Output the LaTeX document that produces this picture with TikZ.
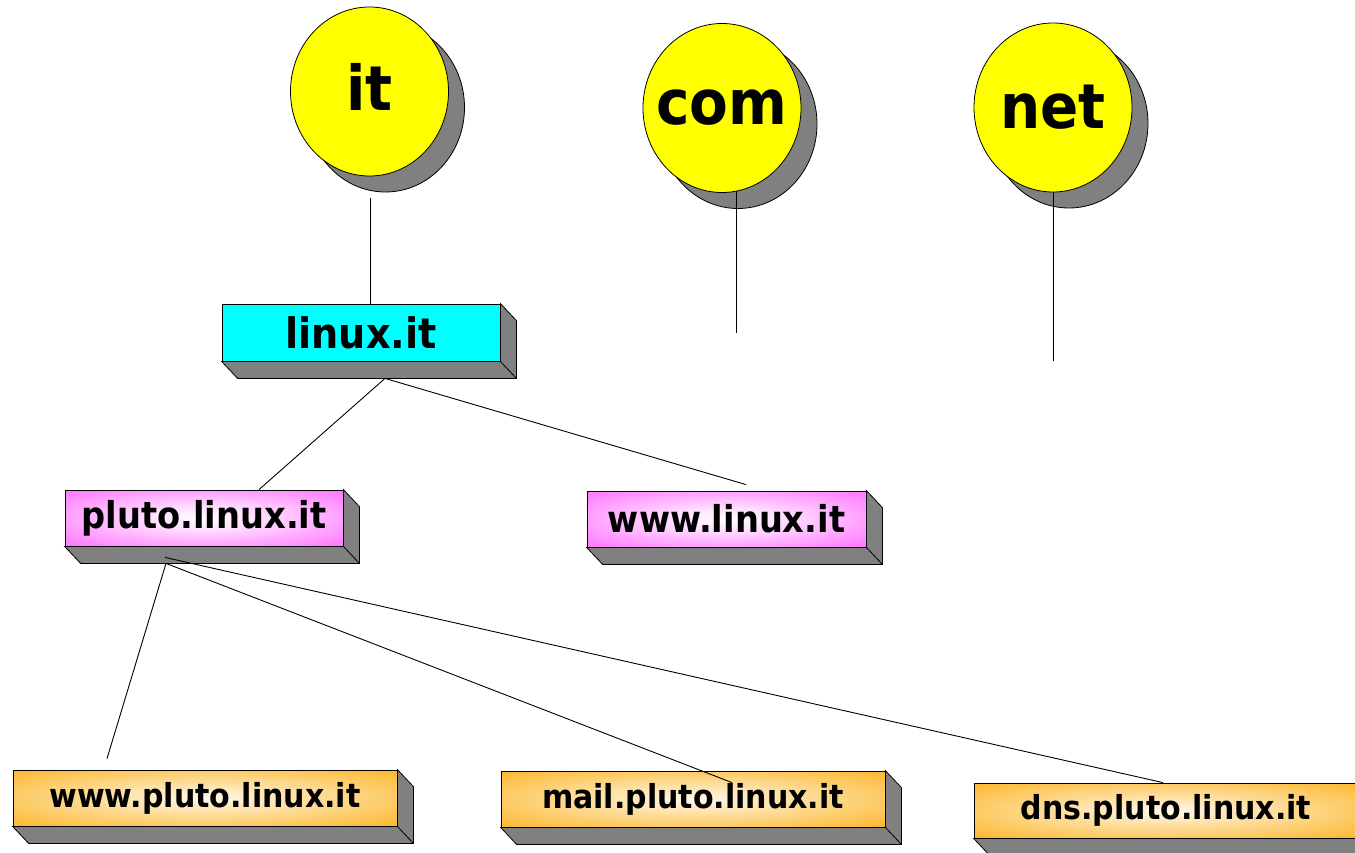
\documentclass[tikz,border=0pt]{standalone}
\usepackage{fontspec}
\setmainfont{DejaVu Sans}[FakeStretch=0.91]
\usetikzlibrary{calc,shapes.geometric,shadows}

\definecolor{ballyellow}{RGB}{255,255,0}
\definecolor{sidegray}{RGB}{128,128,128}
\definecolor{topcyan}{RGB}{0,255,255}
\definecolor{hostpink}{RGB}{255,122,255}
\definecolor{leaforange}{RGB}{252,186,52}

% soft white glow in the middle of the host and leaf slabs
\pgfdeclareradialshading{pinkglow}{\pgfpointorigin}{%
  color(0bp)=(white); color(10bp)=(white!75!hostpink);
  color(34bp)=(hostpink); color(50bp)=(hostpink)}
\pgfdeclareradialshading{orangeglow}{\pgfpointorigin}{%
  color(0bp)=(white!90!leaforange); color(10bp)=(white!62!leaforange);
  color(34bp)=(leaforange); color(50bp)=(leaforange)}

\tikzset{
  tld/.style={ellipse, draw=black, line width=0.8pt, fill=ballyellow,
    minimum width=158pt, minimum height=169pt, inner sep=0pt,
    label distance=0pt,
    drop shadow={shadow xshift=16pt, shadow yshift=-16pt,
      fill=sidegray, draw=black, opacity=1}},
  tldtext/.style={font=\fontsize{62}{70}\selectfont\bfseries, inner sep=0pt},
  slab/.style={rectangle, draw=black, line width=0.8pt, inner sep=0pt},
  zoneslab/.style={slab, fill=topcyan, minimum width=278pt, minimum height=57pt,
    font=\fontsize{42}{48}\selectfont\bfseries},
  hostslab/.style={slab, shading=pinkglow, minimum width=278pt, minimum height=56pt,
    font=\fontsize{37}{42}\selectfont\bfseries},
  leafslab/.style={slab, shading=orangeglow, minimum width=384pt, minimum height=56pt,
    font=\fontsize{33}{38}\selectfont\bfseries},
  sideface/.style={draw=black, line width=0.8pt, fill=sidegray, line join=miter},
  link/.style={draw=black, line width=0.9pt},
}

% extruded side and bottom faces of a slab node
\newcommand\slabdepth[1]{%
  \draw[sideface] (#1.south west) -- ++(16,17)
    -- ($(#1.south east)+(16,17)$) -- ($(#1.north east)+(16,17)$)
    -- (#1.north east) -- (#1.south east) -- cycle;
  \draw[sideface] (#1.south east) -- ++(16,17);}

\begin{document}
\begin{tikzpicture}[x=1pt,y=-1pt]
  \useasboundingbox (0,0) rectangle (1355,853);

  % top-level domains
  \node[tld, label={[tldtext, yshift=5pt]center:it}] (it) at (369.5,91.5) {};
  \node[tld, label={[tldtext]center:com}] (com) at (722,108) {};
  \node[tld, label={[tldtext]center:net}] (net) at (1053,107.5) {};

  % second and third levels
  \node[zoneslab] (linux) at (361,332.5) {linux.it};
  \slabdepth{linux}
  \node[hostslab] (pluto) at (204,518) {pluto.linux.it};
  \slabdepth{pluto}
  \node[hostslab, minimum width=279pt] (wwwl) at (726.5,519) {www.linux.it};
  \slabdepth{wwwl}

  % hosts under pluto.linux.it
  \node[leafslab] (wwwp) at (205,798) {www.pluto.linux.it};
  \slabdepth{wwwp}
  \node[leafslab] (mail) at (693,799) {mail.pluto.linux.it};
  \slabdepth{mail}
  \node[leafslab, minimum height=55pt] (dns) at (1166,810.5) {dns.pluto.linux.it};
  \slabdepth{dns}

  % connector ends
  \coordinate (itfoot) at (370,198);
  \coordinate (comend) at (737,333);
  \coordinate (netend) at (1053,361);
  \coordinate (linuxfoot) at ($(linux.south)+(24,17)$);
  \coordinate (plutofootA) at ($(pluto.south)+(-39,11)$);
  \coordinate (plutofootB) at ($(pluto.south)+(-38,17)$);

  % tree links
  \draw[link] (itfoot) -- (itfoot |- linux.north);
  \draw[link] (com.-80) -- (com.-80 |- comend);
  \draw[link] (net.south) -- (netend);
  \draw[link] (linuxfoot) -- ($(pluto.north)+(55,0)$);
  \draw[link] (linuxfoot) -- ($(wwwl.north)+(19.5,-6)$);
  \draw[link] (plutofootB) -- ($(wwwp.north)+(-98,-11)$);
  \draw[link] (plutofootB) -- ($(mail.north)+(39,12)$);
  \draw[link] (plutofootA) -- ($(dns.north)+(-3,0)$);
\end{tikzpicture}
\end{document}
